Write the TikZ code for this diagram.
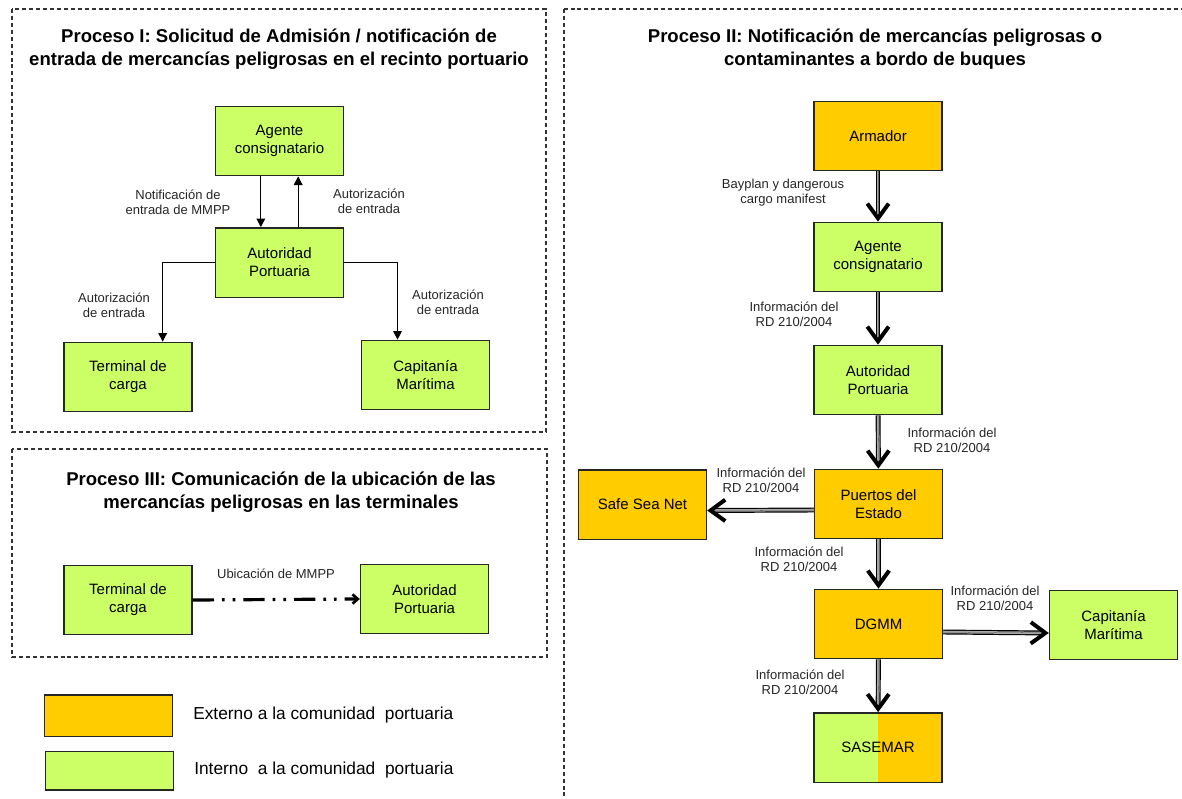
\documentclass[tikz,border=0pt]{standalone}
\usepackage{fontspec}
\setmainfont{Liberation Sans}
\usepackage{tikz}
\usepackage{xcolor}
\usetikzlibrary{arrows.meta}

\definecolor{extorange}{HTML}{FFCC00}
\definecolor{intgreen}{HTML}{CCFF66}

\begin{document}
\begin{tikzpicture}[x=0.75pt, y=-0.75pt,
  actor/.style={draw=black!85, line width=1pt, minimum width=96pt, minimum height=52pt,
    align=center, inner sep=2pt, font=\fontsize{11.25}{13.5}\selectfont},
  extern/.style={actor, fill=extorange},
  intern/.style={actor, fill=intgreen},
  panel/.style={draw=black!80, line width=0.8pt, dash pattern=on 3pt off 2.2pt},
  heading/.style={align=center, font=\fontsize{13.9}{17.25}\selectfont\bfseries},
  msg/.style={align=center, inner sep=0pt, font=\fontsize{9.75}{11.25}\selectfont, text=black!85},
  thin arrow/.style={line width=0.9pt, -{Triangle[length=6.5pt, width=6.5pt]}},
  dbl shaft/.style={line width=0.9pt, double=black!35, double distance=1.9pt, shorten >=3pt},
  dbl head/.style={line width=0.01pt, -{Straight Barb[length=11pt, width=16pt, line width=3pt]}}]

  % Canvas
  \path[use as bounding box, fill=white] (0,0) rectangle (1182,799);
  \clip (0,0) rectangle (1182,799);

  % Dashed panels
  \draw[panel] (12,9) rectangle (546,432);
  \draw[panel] (12,449) rectangle (547,657);
  \draw[panel] (564,9) rectangle (1195,815);

  % Titles
  \node[heading] (title1) at (279,49.5)
    {Proceso I: Solicitud de Admisión / notificación de\\entrada de mercancías peligrosas en el recinto portuario};
  \node[heading] (title2) at (875,49.5)
    {Proceso II: Notificación de mercancías peligrosas o\\contaminantes a bordo de buques};
  \node[heading] (title3) at (281,492)
    {Proceso III: Comunicación de la ubicación de las\\mercancías peligrosas en las terminales};

  % Proceso I
  \node[intern] (age1) at (279.5,141) {Agente\\consignatario};
  \node[intern] (aut1) at (279.5,262.5) {Autoridad\\Portuaria};
  \node[intern] (ter1) at (128,377) {Terminal de\\carga};
  \node[intern] (cap1) at (425.5,375) {Capitanía\\Marítima};

  \draw[thin arrow] ([xshift=-14pt]age1.south) -- ([xshift=-14pt]aut1.north);
  \draw[thin arrow] ([xshift=14pt]aut1.north) -- ([xshift=14pt]age1.south);
  \draw[thin arrow] (aut1.west) -| ([xshift=26pt]ter1.north);
  \draw[thin arrow] (aut1.east) -| ([xshift=-21pt]cap1.north);

  \node[msg] (notif1) at (178,202) {Notificación de\\entrada de MMPP};
  \node[msg] (autz1) at (369,201) {Autorización\\de entrada};
  \node[msg] (autz2) at (114,305.5) {Autorización\\de entrada};
  \node[msg] (autz3) at (448,302) {Autorización\\de entrada};

  % Proceso III
  \node[intern] (ter3) at (128,600) {Terminal de\\carga};
  \node[intern] (aut3) at (424.5,599) {Autoridad\\Portuaria};
  \draw[line width=2.4pt, dash pattern=on 16pt off 6pt on 2pt off 6pt on 2pt off 6pt,
        -{Straight Barb[length=4pt, width=7pt, line width=2pt]}] (ter3.east) -- (aut3.west);
  \node[msg] (ubic) at (276,574) {Ubicación de MMPP};

  % Proceso II
  \node[extern] (arm) at (878,136) {Armador};
  \node[intern] (age2) at (878,257) {Agente\\consignatario};
  \node[intern] (aut2) at (878,380) {Autoridad\\Portuaria};
  \node[extern] (pde) at (878.5,504) {Puertos del\\Estado};
  \node[extern] (ssn) at (642.5,504.5) {Safe Sea Net};
  \node[extern] (dgmm) at (878.5,624) {DGMM};
  \node[intern] (cap2) at (1113.5,625) {Capitanía\\Marítima};
  \node[intern, path picture={\fill[extorange] (path picture bounding box.north)
        rectangle (path picture bounding box.south east);}] (sas) at (878,747.5) {SASEMAR};

  \draw[dbl shaft] (arm) -- (age2);
  \draw[dbl head] (arm) -- (age2);
  \draw[dbl shaft] (age2) -- (aut2);
  \draw[dbl head] (age2) -- (aut2);
  \draw[dbl shaft] (aut2) -- (pde);
  \draw[dbl head] (aut2) -- (pde);
  \draw[dbl shaft] ([yshift=-4.5pt]pde.west) -- ([yshift=-4.5pt]ssn.east);
  \draw[dbl head] ([yshift=-4.5pt]pde.west) -- ([yshift=-4.5pt]ssn.east);
  \draw[dbl shaft] (pde) -- (dgmm);
  \draw[dbl head] (pde) -- (dgmm);
  \draw[dbl shaft] ([yshift=-6pt]dgmm.east) -- ([yshift=-6pt]cap2.west);
  \draw[dbl head] ([yshift=-6pt]dgmm.east) -- ([yshift=-6pt]cap2.west);
  \draw[dbl shaft] (dgmm) -- (sas);
  \draw[dbl head] (dgmm) -- (sas);

  \node[msg] (bay) at (783,193) {Bayplan y dangerous\\cargo manifest};
  \node[msg] (info1) at (794,314) {Información del\\RD 210/2004};
  \node[msg] (info2) at (952,440) {Información del\\RD 210/2004};
  \node[msg] (info3) at (761,480.5) {Información del\\RD 210/2004};
  \node[msg] (info4) at (799,559.5) {Información del\\RD 210/2004};
  \node[msg] (info5) at (995,598.5) {Información del\\RD 210/2004};
  \node[msg] (info6) at (800,682) {Información del\\RD 210/2004};

  % Legend
  \node[extern, minimum height=31pt] (legext) at (108.5,715.5) {};
  \node[intern, minimum height=29pt] (legint) at (109.5,770.5) {};
  \node[anchor=west, inner sep=0pt, font=\fontsize{13}{15.6}\selectfont] (legexttxt) at (193,715)
    {Externo a la comunidad\ \ portuaria};
  \node[anchor=west, inner sep=0pt, font=\fontsize{13}{15.6}\selectfont] (leginttxt) at (194,770)
    {Interno\ \ a la comunidad\ \ portuaria};
\end{tikzpicture}
\end{document}
